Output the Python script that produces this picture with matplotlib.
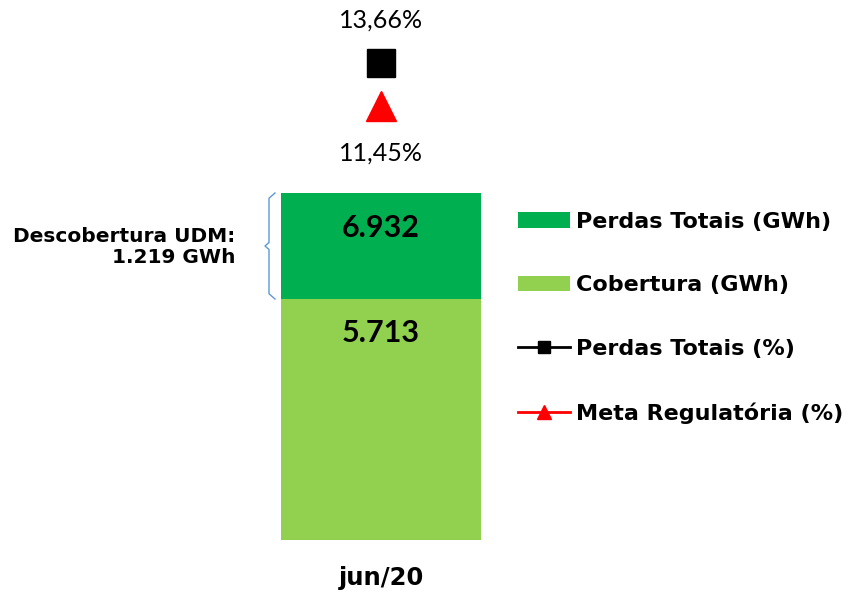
import matplotlib
matplotlib.use("Agg")
import matplotlib.pyplot as plt
from matplotlib.patches import Patch
from matplotlib.lines import Line2D

categories = ["jun/20"]
perdas_gwh = [6932]
cobertura_gwh = [5713]
perdas_pct = [13.66]
meta_pct = [11.45]
descobertura_label = "Descobertura UDM:\n1.219 GWh"

def br(v):
    return f"{v:,.0f}".replace(",", ".")

def pct(v):
    return f"{v:.2f}%".replace(".", ",")

PX = 72 / 100  # points per pixel
WIDE = ['DejaVu Sans']
plt.rcParams['font.family'] = ['Lato', 'DejaVu Sans']

fig = plt.figure(figsize=(8.5, 5.95), dpi=100)
W, H = 850, 595
ax = fig.add_axes([231 / W, (H - 540) / H, 300 / W, 535 / H])
ax.set_xlim(-0.75, 0.75)
ax.set_ylim(2941.5, 2941.5 + 535 * 11.5)

x = list(range(len(categories)))
ax.bar(x, perdas_gwh, width=1.0, color="#00B050", zorder=1)
ax.bar(x, cobertura_gwh, width=1.0, color="#92D050", zorder=2)
for xi, p, c in zip(x, perdas_gwh, cobertura_gwh):
    ax.annotate(br(p), (xi, p), xytext=(0, -35 * PX), textcoords="offset points",
                ha="center", va="center", fontsize=22, fontweight="bold", color="black", zorder=5)
    ax.annotate(br(c), (xi, c), xytext=(0, -34 * PX), textcoords="offset points",
                ha="center", va="center", fontsize=22, fontweight="bold", color="black", zorder=5)
    bx, tipx, hookx = -0.56, -0.58, -0.53
    mid = (p + c) / 2
    ax.plot([hookx, bx, bx, tipx, bx, bx, hookx], [p, p - 60, mid + 40, mid, mid - 40, c + 60, c],
            color="#5B9BD5", lw=1.0, zorder=3, solid_joinstyle="round")
    ax.annotate(descobertura_label, (tipx, mid), xytext=(-30 * PX, -1 * PX), textcoords="offset points",
                ha="right", va="center", fontsize=14.5, fontweight="bold", color="black",
                multialignment="right", linespacing=1.15, family=WIDE)

ax.axis("off")
for xi, lab in zip(x, categories):
    ax.annotate(lab, (xi, 0), xycoords=("data", "axes fraction"), xytext=(0, -38 * PX),
                textcoords="offset points", ha="center", va="center", fontsize=17.5,
                fontweight="bold", annotation_clip=False, family=WIDE)

ax2 = ax.twinx()
ax2.set_ylim(-10.85, -10.85 + 535 / 19.46)
ax2.axis("off")
ax2.plot(x, perdas_pct, color="black", marker="s", markersize=20, lw=2, ls="none", zorder=6)
ax2.plot(x, meta_pct, color="red", marker="^", markersize=21, lw=2, ls="none", zorder=6)
for xi, v in zip(x, perdas_pct):
    ax2.annotate(pct(v), (xi, v), xytext=(0, 31), textcoords="offset points",
                 ha="center", va="center", fontsize=18, color="black", annotation_clip=False)
for xi, v in zip(x, meta_pct):
    ax2.annotate(pct(v), (xi, v), xytext=(0, -34), textcoords="offset points",
                 ha="center", va="center", fontsize=18, color="black", annotation_clip=False)

handles = [
    Patch(facecolor="#00B050", label="Perdas Totais (GWh)"),
    Patch(facecolor="#92D050", label="Cobertura (GWh)"),
    Line2D([], [], color="black", marker="s", markersize=9, lw=2, label="Perdas Totais (%)"),
    Line2D([], [], color="red", marker="^", markersize=10, lw=2, label="Meta Regulatória (%)"),
]
fig.legend(handles=handles, loc="upper left", bbox_to_anchor=(518 / W, 1 - 212 / H),
           frameon=False, prop={"weight": "bold", "size": 16, "family": WIDE}, handlelength=2.35,
           handleheight=0.7, handletextpad=0.27, labelspacing=1.95, borderaxespad=0,
           borderpad=0)

fig.savefig("out.png", dpi=100)
